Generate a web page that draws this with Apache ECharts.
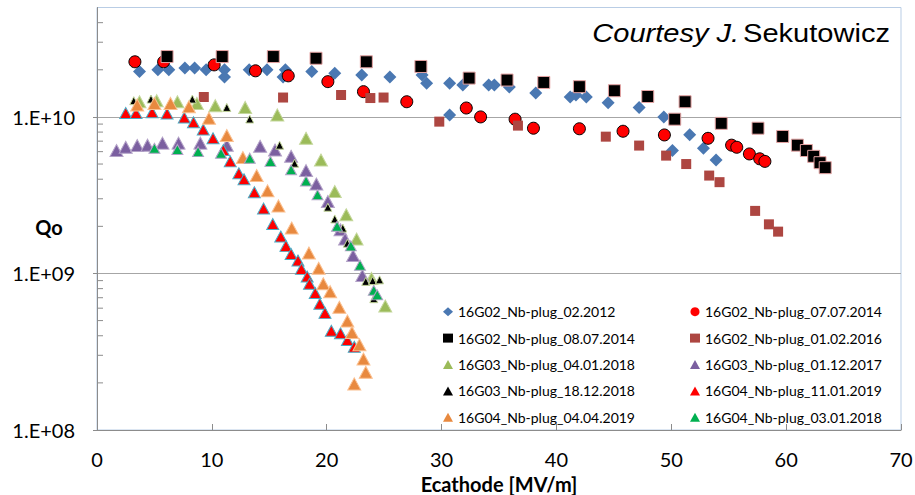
<!DOCTYPE html>
<html><head><meta charset="utf-8">
<script src="https://cdn.jsdelivr.net/npm/echarts@6/dist/echarts.min.js"></script>
<style>html,body{margin:0;padding:0;background:#fff}#c{width:915px;height:495px}</style>
</head><body><div id="c"></div>
<script>
// ---- tick labels ----
const yTickValues = [1e8, 1e9, 1e10];
const yTickLabels = ['1.E+08', '1.E+09', '1.E+10'];
const yMinorTicks = [2e8,3e8,4e8,5e8,6e8,7e8,8e8,9e8,2e9,3e9,4e9,5e9,6e9,7e9,8e9,9e9,2e10,3e10,4e10];
const xTickLabels = ['0','10','20','30','40','50','60','70'];

// ---- series names ----
const seriesNames = [
  '16G02_Nb-plug_02.2012', '16G02_Nb-plug_07.07.2014', '16G02_Nb-plug_08.07.2014', '16G02_Nb-plug_01.02.2016',
  '16G03_Nb-plug_04.01.2018', '16G03_Nb-plug_01.12.2017', '16G03_Nb-plug_18.12.2018', '16G04_Nb-plug_11.01.2019',
  '16G04_Nb-plug_04.04.2019', '16G04_Nb-plug_03.01.2018'
];

// ---- data [Ecathode MV/m, Qo] ----
const g02_2012 = [[3.7,1.95e10],[5.3,2.0e10],[6.25,2.0e10],[7.65,2.05e10],[8.5,2.05e10],[9.5,2.0e10],[11.1,2.0e10],[11.1,1.8e10],[13.25,2.0e10],[14.8,2.0e10],[16.4,2.0e10],[16.2,1.8e10],[18.7,1.95e10],[20.7,1.9e10],[23.05,1.85e10],[25.5,1.8e10],[28.3,1.85e10],[28.7,1.64e10],[30.7,1.64e10],[30.7,1.03e10],[31.85,1.6e10],[34.1,1.6e10],[34.6,1.6e10],[35.9,1.55e10],[38.2,1.42e10],[41.2,1.34e10],[41.7,1.38e10],[42.6,1.34e10],[44.5,1.23e10],[47.2,1.15e10],[49.35,1.0e10],[50.1,6.1e9],[51.6,7.7e9],[52.8,6.3e9],[53.9,5.3e9]];
const g02_07072014 = [[3.3,2.25e10],[5.8,2.25e10],[10.2,2.15e10],[13.8,1.97e10],[16.65,1.83e10],[20.1,1.68e10],[23.2,1.45e10],[26.97,1.25e10],[32.15,1.14e10],[33.4,1.0e10],[36.4,9.67e9],[38.0,8.47e9],[42.0,8.4e9],[45.8,8.1e9],[49.4,7.67e9],[53.2,7.3e9],[55.25,6.6e9],[55.7,6.4e9],[56.8,5.8e9],[57.7,5.4e9],[58.15,5.2e9]];
const g02_08072014 = [[6.1,2.43e10],[10.9,2.43e10],[15.35,2.43e10],[19.07,2.37e10],[23.45,2.25e10],[28.2,2.1e10],[32.4,1.77e10],[35.7,1.72e10],[38.9,1.66e10],[42.0,1.56e10],[45.05,1.47e10],[47.95,1.35e10],[51.2,1.25e10],[50.3,9.67e9],[54.35,9.1e9],[57.55,8.47e9],[59.7,7.5e9],[60.98,6.6e9],[61.76,6.1e9],[62.4,5.6e9],[62.95,5.1e9],[63.4,4.74e9]];
const g02_01022016 = [[9.3,1.34e10],[16.2,1.33e10],[21.25,1.38e10],[23.8,1.32e10],[24.95,1.33e10],[29.8,9.33e9],[36.65,8.8e9],[44.3,7.48e9],[47.2,6.56e9],[49.55,5.66e9],[51.3,5.0e9],[53.3,4.22e9],[54.2,3.83e9],[57.3,2.51e9],[58.5,2.06e9],[59.3,1.85e9]];
const g03_04012018 = [[3.7,1.25e10],[5.2,1.27e10],[7.0,1.25e10],[8.7,1.22e10],[10.3,1.18e10],[12.9,1.15e10],[15.7,1.03e10],[18.2,7.3e9],[19.5,5.3e9],[20.7,3.34e9],[21.7,2.37e9],[22.6,1.66e9],[23.9,9.3e8],[25.1,6.2e8]];
const g03_01122017 = [[1.7,6.1e9],[2.5,6.4e9],[3.5,6.56e9],[4.4,6.6e9],[5.7,6.8e9],[7.1,6.8e9],[9.0,6.8e9],[11.3,6.6e9],[14.2,6.5e9],[15.5,6.15e9],[16.9,5.6e9],[18.2,4.54e9],[19.1,3.73e9],[20.1,2.88e9],[21.2,1.9e9],[21.6,1.66e9],[22.3,1.3e9],[23.1,9.7e8]];
const g03_18122018 = [[3.2,1.27e10],[4.7,1.3e10],[8.3,1.3e10],[11.3,1.15e10],[13.3,9.7e9],[15.9,6.6e9],[17.2,5.06e9],[20.1,2.65e9],[20.7,2.23e9],[21.4,1.95e9],[21.8,1.56e9],[23.4,8.9e8],[24.0,9.0e8],[24.6,9.1e8],[24.1,6.9e8]];
const g04_11012019 = [[2.5,1.06e10],[3.4,1.06e10],[4.8,1.07e10],[6.1,1.05e10],[7.6,9.9e9],[8.4,9.25e9],[9.25,8.3e9],[10.1,7.3e9],[11.0,6.15e9],[11.6,5.2e9],[12.35,4.37e9],[12.8,4.0e9],[13.7,3.3e9],[14.5,2.6e9],[15.3,2.07e9],[16.0,1.72e9],[16.45,1.5e9],[16.9,1.33e9],[17.5,1.21e9],[17.8,1.07e9],[18.3,9.55e8],[18.5,8.6e8],[19.0,7.5e8],[19.4,6.4e8],[19.85,5.6e8],[20.4,4.3e8],[21.2,4.15e8],[21.8,3.76e8],[22.4,3.4e8]];
const g04_04042019 = [[3.5,1.19e10],[5.0,1.22e10],[6.4,1.22e10],[8.0,1.16e10],[9.75,9.8e9],[11.3,7.6e9],[12.7,5.5e9],[13.9,4.22e9],[14.85,3.37e9],[15.8,2.7e9],[16.95,1.95e9],[18.45,1.35e9],[19.3,1.08e9],[19.7,8.6e8],[20.3,7.65e8],[21.1,6.08e8],[21.8,4.97e8],[22.2,4.2e8],[22.85,3.5e8],[23.2,2.84e8],[23.4,2.34e8],[22.4,1.97e8]];
const g04_03012018 = [[5.0,6.3e9],[7.0,6.2e9],[8.8,6.0e9],[10.8,5.86e9],[13.3,5.45e9],[15.1,5.2e9],[16.9,4.6e9],[18.2,3.9e9],[19.2,3.18e9],[20.9,2.0e9],[22.1,1.5e9],[22.9,1.13e9],[24.1,7.8e8],[24.4,7.3e8]];

const seriesData = [g02_2012, g02_07072014, g02_08072014, g02_01022016, g03_04012018, g03_01122017, g03_18122018, g04_11012019, g04_04042019, g04_03012018];

// ---- styles ----
const styles = [
  {symbol:'diamond', size:13, color:'#4a78b2', border:'#4a78b2', bw:0},
  {symbol:'circle', size:12, color:'#ff0000', border:'#000000', bw:1},
  {symbol:'rect', size:12, color:'#000000', border:'#e5a3a3', bw:1},
  {symbol:'rect', size:10, color:'#ad4641', border:'#ad4641', bw:0},
  {symbol:'triangle', size:[13,12], color:'#9bbb59', border:'#c4d79b', bw:1},
  {symbol:'triangle', size:[13,12], color:'#7b5fa0', border:'#b3a2c7', bw:1},
  {symbol:'triangle', size:[8,8], color:'#000000', border:'#c4d79b', bw:1},
  {symbol:'triangle', size:[12,11], color:'#ff0000', border:'#4bacc6', bw:1},
  {symbol:'triangle', size:[13,12], color:'#e8893f', border:'#fabf8f', bw:1},
  {symbol:'triangle', size:[11,10], color:'#00b050', border:'#b3a2c7', bw:1}
];

const FONT = 'Lato';
const series = seriesData.map((d, i) => ({
  name: seriesNames[i], type: 'scatter', data: d,
  symbol: styles[i].symbol, symbolSize: styles[i].size,
  itemStyle: {color: styles[i].color, borderColor: styles[i].border, borderWidth: styles[i].bw, opacity: 1},
  z: 3 + i
}));
series.push({
  name: 'minorTicks', type: 'custom', silent: true, z: 2,
  data: yMinorTicks.map(v => [0, v]),
  renderItem: (p, api) => {
    const pt = api.coord([api.value(0), api.value(1)]);
    return {type: 'line', shape: {x1: pt[0], y1: pt[1], x2: pt[0] + 6, y2: pt[1]}, style: {stroke: '#8c8c8c', lineWidth: 1}};
  }
});

const legendText = {fontFamily: FONT, fontSize: 14, color: '#000', lineHeight: 16};
const legendIconStyle = {borderWidth: 0};
const chart = echarts.init(document.getElementById('c'), null, {renderer: 'svg'});
chart.setOption({
  animation: false,
  backgroundColor: '#ffffff',
  grid: {left: 97, right: 14, top: 7.5, bottom: 65, outerBoundsMode: 'none', containLabel: false, show: true, borderColor: '#b9cde5', borderWidth: 1, backgroundColor: 'transparent'},
  xAxis: {
    type: 'value', min: 0, max: 70, interval: 10,
    name: 'Ecathode [MV/m]', nameLocation: 'middle', nameGap: 41,
    nameTextStyle: {fontFamily: FONT, fontSize: 20, fontWeight: 'bold', color: '#000'},
    axisLine: {show: true, lineStyle: {color: '#8c8c8c', width: 1}},
    axisTick: {show: true, inside: true, length: 6, lineStyle: {color: '#8c8c8c'}},
    axisLabel: {fontFamily: FONT, fontSize: 20, color: '#000', margin: 19, formatter: v => xTickLabels[Math.round(v / 10)]},
    splitLine: {show: false}
  },
  yAxis: {
    type: 'log', logBase: 10, min: 1e8, max: 5e10,
    axisLine: {show: true, lineStyle: {color: '#8c8c8c', width: 1}},
    axisTick: {show: true, inside: false, length: 4, lineStyle: {color: '#8c8c8c'}},
    axisLabel: {fontFamily: FONT, fontSize: 20, color: '#000', margin: 22, showMaxLabel: false,
      formatter: v => { const k = yTickValues.findIndex(t => Math.abs(Math.log10(t) - Math.log10(v)) < 0.01); return k >= 0 ? yTickLabels[k] : ''; }},
    splitLine: {show: true, showMaxLine: false, showMinLine: false, lineStyle: {color: '#a6a6a6', width: 1}}
  },
  legend: [
    {show: true, orient: 'vertical', left: 438, top: 298.7, itemWidth: 10, itemHeight: 9, itemGap: 10.4, itemStyle: legendIconStyle,
      data: [seriesNames[0], seriesNames[2], seriesNames[4], seriesNames[6], seriesNames[8]], textStyle: legendText, selectedMode: false},
    {show: true, orient: 'vertical', left: 685, top: 298.7, itemWidth: 10, itemHeight: 9, itemGap: 10.4, itemStyle: legendIconStyle,
      data: [seriesNames[1], seriesNames[3], seriesNames[5], seriesNames[7], seriesNames[9]], textStyle: legendText, selectedMode: false}
  ],
  graphic: [
    {type: 'text', x: 49, y: 227, style: {text: 'Qo', font: 'bold 20px Lato', fill: '#000', align: 'center', verticalAlign: 'middle'}},
    {type: 'text', x: 890, y: 33, scaleX: 1.14, style: {text: '{i|Courtesy J.} {n|Sekutowicz}', align: 'right', verticalAlign: 'middle',
      rich: {i: {fontFamily: 'Liberation Sans', fontStyle: 'italic', fontSize: 25.5, fill: '#000', color: '#000'}, n: {fontFamily: 'Liberation Sans', fontSize: 25.5, fill: '#000', color: '#000'}}}}
  ],
  series: series
});
</script></body></html>
